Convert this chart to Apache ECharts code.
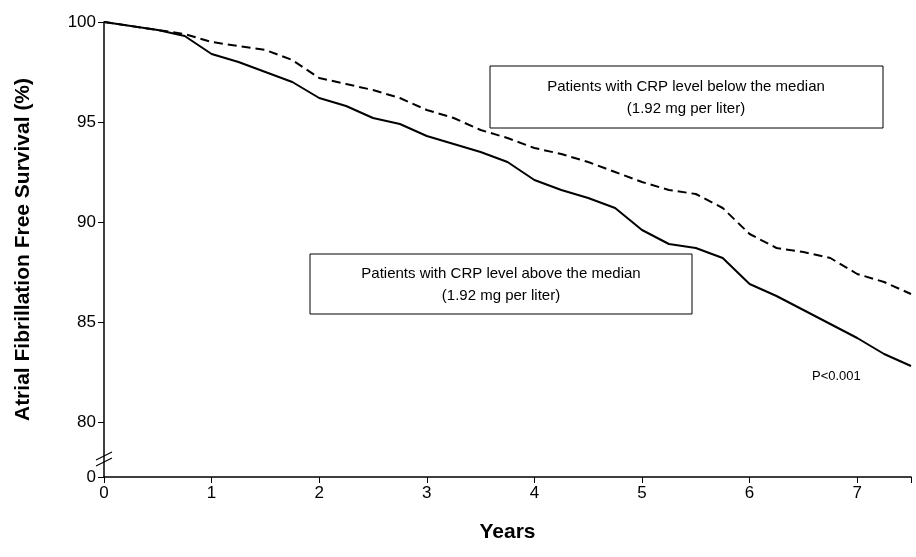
<!DOCTYPE html>
<html><head><meta charset="utf-8">
<script src="https://cdn.jsdelivr.net/npm/echarts@6/dist/echarts.min.js"></script>
<style>html,body{margin:0;background:#fff}#c{width:916px;height:557px}</style>
</head><body><div id="c"></div>
<script>
const yTicks=[77.25,80,85,90,95,100];
const yTickLabels=['0','80','85','90','95','100'];
const years=[0,0.25,0.5,0.75,1,1.25,1.5,1.75,2,2.25,2.5,2.75,3,3.25,3.5,3.75,4,4.25,4.5,4.75,5,5.25,5.5,5.75,6,6.25,6.5,6.75,7,7.25,7.5];
const belowY=[100,99.8,99.6,99.4,99.0,98.8,98.6,98.1,97.2,96.9,96.6,96.2,95.6,95.2,94.6,94.2,93.7,93.4,93.0,92.5,92.0,91.6,91.4,90.7,89.4,88.7,88.5,88.2,87.4,87.0,86.4];
const aboveY=[100,99.8,99.6,99.3,98.4,98.0,97.5,97.0,96.2,95.8,95.2,94.9,94.3,93.9,93.5,93.0,92.1,91.6,91.2,90.7,89.6,88.9,88.7,88.2,86.9,86.3,85.6,84.9,84.2,83.4,82.8];
const chart=echarts.init(document.getElementById('c'));
const pair=ys=>years.map((x,i)=>[x,ys[i]]);
const F='Liberation Sans';
chart.setOption({
 animation:false,
 grid:{left:104,right:5,top:22,bottom:80},
 xAxis:{type:'value',min:0,max:7.5,interval:1,
  axisLine:{lineStyle:{color:'#000',width:1.5}},axisTick:{lineStyle:{color:'#000'},length:6},
  axisLabel:{color:'#000',fontSize:17,fontFamily:F,formatter:v=>v<=7?v:''},splitLine:{show:false},
  name:'Years',nameLocation:'middle',nameGap:45,nameTextStyle:{fontSize:21,fontWeight:'bold',fontFamily:F,color:'#000'}},
 yAxis:{type:'value',min:77.25,max:100,
  axisLine:{show:true,lineStyle:{color:'#000',width:1.5}},
  axisTick:{show:true,customValues:yTicks,lineStyle:{color:'#000'},length:6},
  axisLabel:{color:'#000',fontSize:17,fontFamily:F,customValues:yTicks,formatter:v=>yTickLabels[yTicks.indexOf(v)]},
  splitLine:{show:false},
  name:'Atrial Fibrillation Free Survival (%)',nameLocation:'middle',nameGap:70,nameTextStyle:{fontSize:21,fontWeight:'bold',fontFamily:F,color:'#000'}},
 series:[
  {type:'line',showSymbol:false,data:pair(belowY),lineStyle:{color:'#000',width:2,type:[9,5]}},
  {type:'line',showSymbol:false,data:pair(aboveY),lineStyle:{color:'#000',width:2}}
 ],
 graphic:[
  {type:'rect',x:94,y:452,shape:{width:20,height:14},style:{fill:'#fff'}},
  {type:'line',shape:{x1:96,y1:460,x2:112,y2:452},style:{stroke:'#000',lineWidth:1.2}},
  {type:'line',shape:{x1:96,y1:466,x2:112,y2:458},style:{stroke:'#000',lineWidth:1.2}},
  {type:'rect',x:490,y:66,shape:{width:393,height:62},style:{fill:'#fff',stroke:'#000',lineWidth:1}},
  {type:'text',x:686,y:76,style:{text:'Patients with CRP level below the median\n(1.92 mg per liter)',align:'center',fontSize:15,lineHeight:22,fontFamily:F,fill:'#000'}},
  {type:'rect',x:310,y:254,shape:{width:382,height:60},style:{fill:'#fff',stroke:'#000',lineWidth:1}},
  {type:'text',x:501,y:263,style:{text:'Patients with CRP level above the median\n(1.92 mg per liter)',align:'center',fontSize:15,lineHeight:22,fontFamily:F,fill:'#000'}},
  {type:'text',x:812,y:370,style:{text:'P<0.001',fontSize:13,fontFamily:F,fill:'#000'}}
 ]
});
</script></body></html>
